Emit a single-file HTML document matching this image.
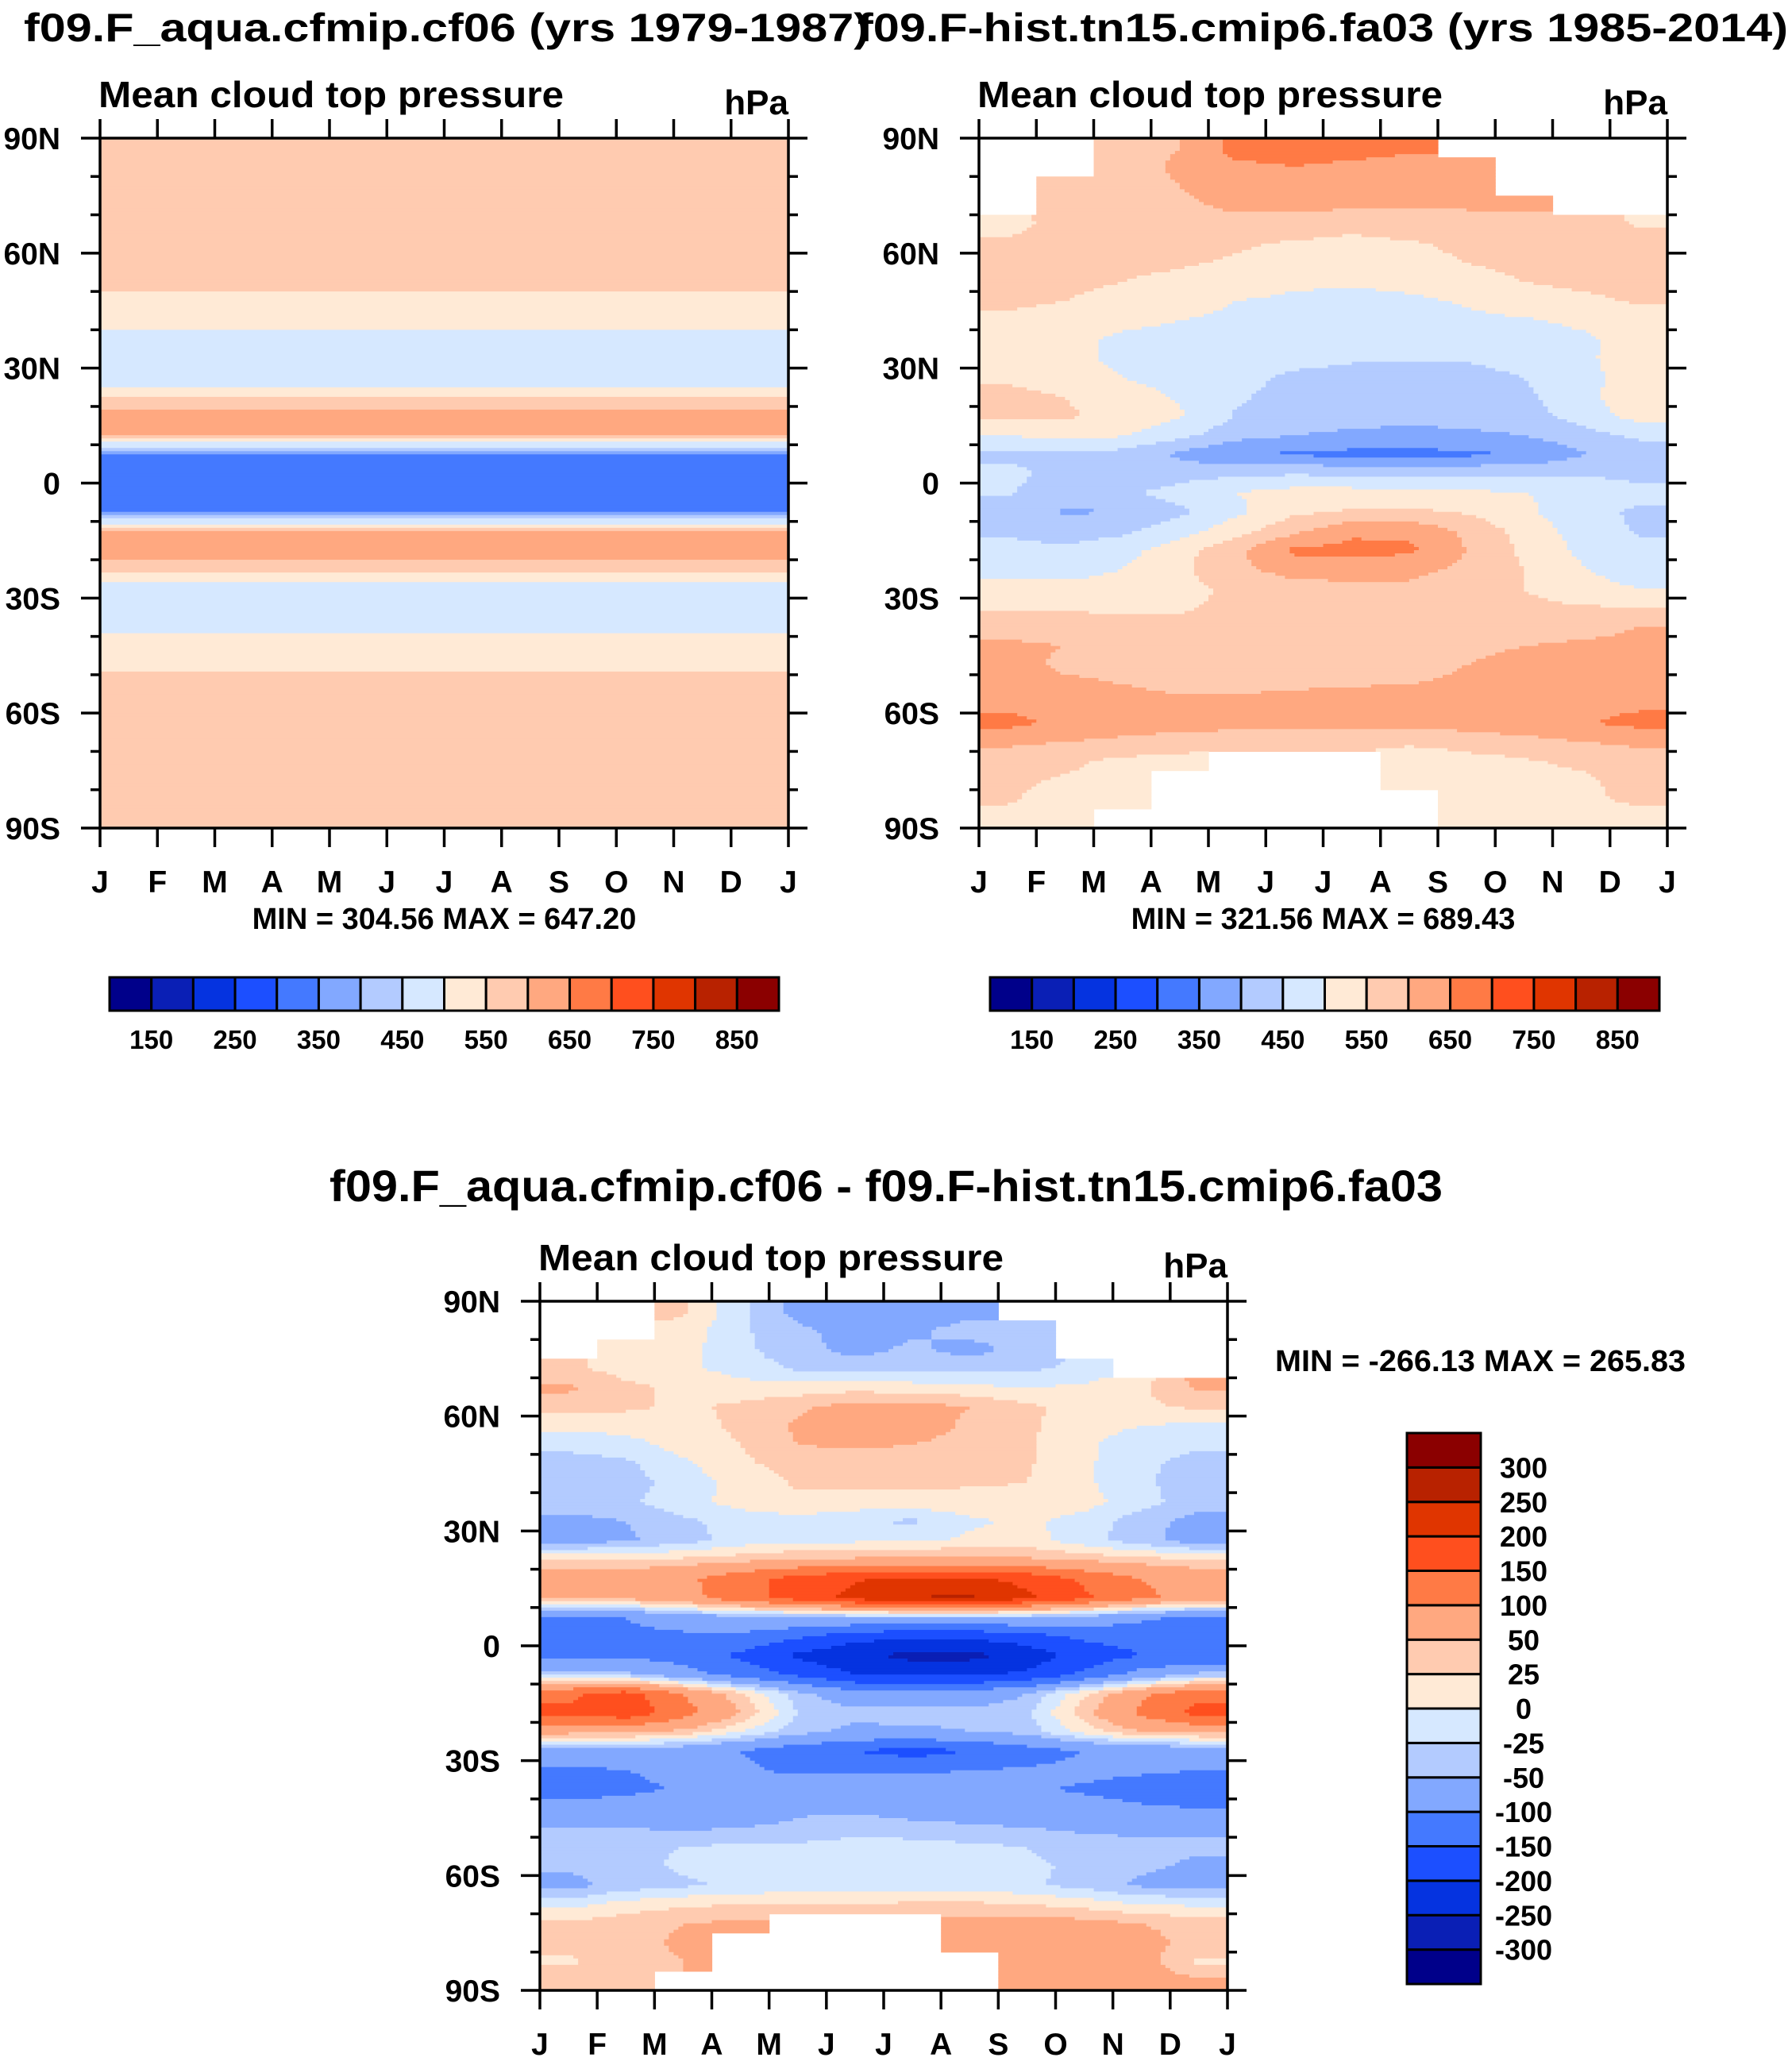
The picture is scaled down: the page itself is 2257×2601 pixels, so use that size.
<!DOCTYPE html>
<html><head><meta charset="utf-8"><style>
html,body{margin:0;padding:0;background:#fff}
svg text{font-family:"Liberation Sans",Arial,sans-serif;font-weight:bold;fill:#000}
</style></head><body>
<svg id="fig" xmlns="http://www.w3.org/2000/svg" width="2257" height="2596" viewBox="0 0 2257 2596">
<rect x="0" y="0" width="2257" height="2596" fill="#fff"/>
<text x="30" y="52" font-size="50" textLength="1065" lengthAdjust="spacingAndGlyphs">f09.F_aqua.cfmip.cf06 (yrs 1979-1987)</text>
<text x="1080" y="52" font-size="50" textLength="1172" lengthAdjust="spacingAndGlyphs">f09.F-hist.tn15.cmip6.fa03 (yrs 1985-2014)</text>
<text x="415" y="1513" font-size="56" textLength="1402" lengthAdjust="spacingAndGlyphs">f09.F_aqua.cfmip.cf06 - f09.F-hist.tn15.cmip6.fa03</text>
</svg>
<script>
// ---- data ----
const months = ["J","F","M","A","M","J","J","A","S","O","N","D","J"];
const latTickLabels = ["90N","60N","30N","0","30S","60S","90S"];
const latTickValues = [90,60,30,0,-30,-60,-90];
const latCenters = [87.5,82.5,77.5,72.5,67.5,62.5,57.5,52.5,47.5,42.5,37.5,32.5,27.5,22.5,17.5,12.5,7.5,2.5,-2.5,-7.5,-12.5,-17.5,-22.5,-27.5,-32.5,-37.5,-42.5,-47.5,-52.5,-57.5,-62.5,-67.5,-72.5,-77.5,-82.5,-87.5];
const absLevels = [150,200,250,300,350,400,450,500,550,600,650,700,750,800,850];
const absLevelLabels = ["150","250","350","450","550","650","750","850"];
const diffLevels = [-300,-250,-200,-150,-100,-50,-25,0,25,50,100,150,200,250,300];
const colors = ["#00008a","#0a1fb5","#0533e0","#1c4fff","#4479ff","#82a8ff","#b3cbff","#d6e8ff","#ffead6","#ffcbb0","#ffa880","#ff7a45","#ff4f1e","#e03500","#b82200","#8b0000"];
const p1Profile = [580,580,580,580,585,592,580,565,530,520,472,460,466,545,625,600,345,330,330,345,600,625,570,470,456,480,530,540,575,585,590,580,580,580,580,580];
const p2Grid = [
[null,null,570,600,670,670,670,660,null,null,null,null],
[null,null,575,610,640,650,640,630,620,null,null,null],
[null,570,580,600,630,630,625,625,615,null,null,null],
[null,570,580,590,610,615,610,605,605,610,null,null],
[540,560,570,580,585,575,560,575,585,585,575,545],
[555,565,570,565,555,545,540,545,560,570,570,565],
[565,565,560,555,545,530,525,535,550,560,565,565],
[565,560,550,540,525,510,505,515,535,550,560,565],
[560,550,535,520,500,490,485,490,505,530,540,555],
[540,530,515,500,490,485,480,482,488,495,510,530],
[530,515,490,480,478,475,470,470,475,480,490,520],
[535,515,488,478,470,465,455,452,455,470,490,525],
[545,530,500,480,465,440,435,430,430,450,485,520],
[560,550,525,495,455,435,430,425,428,440,480,540],
[560,555,540,505,445,425,420,415,420,430,470,520],
[500,520,505,465,420,400,390,385,390,400,430,460],
[440,440,430,390,345,345,335,335,340,355,395,420],
[460,440,400,430,440,445,440,440,440,440,445,430],
[455,420,440,470,500,520,520,515,510,500,490,470],
[430,395,400,440,490,540,555,560,545,510,470,440],
[440,425,440,480,530,590,640,640,590,530,480,445],
[470,460,480,530,590,660,665,660,600,540,490,460],
[480,480,500,540,590,620,620,615,590,550,505,470],
[520,515,520,535,560,580,590,590,570,550,520,500],
[545,545,540,545,560,560,565,565,565,560,555,550],
[580,575,565,560,555,560,565,570,570,575,580,600],
[610,600,580,570,568,570,575,580,590,600,610,615],
[620,590,585,575,575,578,580,590,600,615,620,625],
[625,610,600,592,590,595,598,600,605,615,625,630],
[635,625,615,606,610,612,615,615,620,625,635,640],
[665,640,625,620,618,615,615,615,620,630,645,665],
[610,600,590,580,570,560,560,565,575,585,600,610],
[575,560,540,530,null,null,null,500,530,545,560,580],
[560,545,535,null,null,null,null,505,530,535,540,570],
[555,530,525,null,null,null,null,null,525,530,540,560],
[535,530,null,null,null,null,null,null,520,520,525,530]
];
const p3Grid = [
[null,null,30,-20,-60,-70,-70,-60,null,null,null,null],
[null,null,15,-20,-45,-60,-55,-40,-35,null,null,null],
[null,10,10,-20,-40,-60,-45,-60,-40,null,null,null],
[30,15,5,-10,-30,-35,-30,-35,-30,-20,null,null],
[55,30,20,10,10,15,10,5,0,5,20,55],
[35,30,20,30,45,60,60,50,30,15,20,30],
[5,10,15,30,55,70,65,45,30,10,0,-5],
[-15,-10,10,25,50,55,50,40,28,5,-15,-20],
[-40,-30,-5,20,35,30,30,30,28,5,-20,-35],
[-40,-35,-15,10,28,30,30,28,25,5,-20,-40],
[-35,-30,-10,10,20,15,15,15,15,10,-15,-40],
[-60,-50,-30,-15,-10,-20,-30,-5,5,-10,-40,-60],
[-60,-55,-35,-15,-5,-5,-5,5,10,-15,-40,-65],
[20,25,30,40,50,55,60,60,55,45,35,25],
[80,75,90,130,170,195,210,210,185,140,100,80],
[60,60,80,130,170,215,250,260,210,160,110,80],
[-110,-100,-70,-60,-50,-45,-45,-45,-45,-60,-90,-110],
[-130,-110,-110,-110,-140,-180,-190,-190,-170,-140,-130,-140],
[-120,-110,-120,-160,-210,-240,-265,-265,-230,-180,-150,-150],
[-30,-40,-80,-120,-160,-200,-210,-210,-190,-140,-80,-40],
[140,170,100,30,-40,-80,-90,-80,-50,20,90,130],
[160,185,120,50,-25,-40,-30,-40,-30,40,110,170],
[60,60,40,0,-40,-60,-60,-50,-40,10,50,60],
[-60,-65,-80,-100,-130,-150,-170,-150,-120,-100,-90,-80],
[-110,-100,-90,-90,-110,-110,-105,-100,-95,-90,-95,-100],
[-120,-110,-95,-85,-70,-70,-80,-85,-95,-105,-115,-120],
[-80,-80,-75,-70,-55,-55,-65,-70,-75,-85,-95,-100],
[-50,-50,-55,-50,-45,-35,-40,-45,-50,-55,-55,-55],
[-45,-30,-25,-20,-20,-15,-15,-20,-25,-40,-45,-45],
[-45,-35,-20,-15,-15,-20,-20,-20,-20,-30,-45,-55],
[-60,-40,-30,-20,-15,-15,-15,-15,-20,-35,-55,-60],
[-10,10,20,25,25,25,30,30,25,15,0,-5],
[30,40,50,55,null,null,null,60,65,60,50,40],
[35,40,55,null,null,null,null,65,70,65,60,40],
[20,40,50,null,null,null,null,null,70,70,65,20],
[40,45,null,null,null,null,null,null,70,70,65,55]
];
const p1Stats = "MIN = 304.56 MAX = 647.20";
const p2Stats = "MIN = 321.56 MAX = 689.43";
const p3Stats = "MIN = -266.13 MAX = 265.83";

// ---- drawing ----
const NS = "http://www.w3.org/2000/svg";
const svg = document.getElementById("fig");
function mk(tag, attrs, parent){
  const e = document.createElementNS(NS, tag);
  for (const k in attrs) e.setAttribute(k, attrs[k]);
  (parent||svg).appendChild(e);
  return e;
}
function classify(v, levels){ let i=0; while(i<levels.length && v>=levels[i]) i++; return i; }

function drawField(grid, x0, y0, W, H, levels, name){
  const g = mk("g", {});
  
  
  const nR = grid.length, nC = grid[0].length;
  const SX = 12, SY = 6;
  const cw = W / nC, rh = H / nR;
  const sw = cw / SX, sh = rh / SY;
  const val = (r,c,own) => { r=Math.max(0,Math.min(nR-1,r)); c=Math.max(0,Math.min(nC-1,c)); const v=grid[r][c]; return v==null?own:v; };
  for (let r=0;r<nR;r++){
    for (let sy=0; sy<SY; sy++){
      const fy = r + (sy+0.5)/SY - 0.5;
      let runStart=-1, runColor=null;
      const flush = (endX) => {
        if (runColor!==null){
          const rect = mk("rect", {x:(x0+runStart).toFixed(2), y:(y0+r*rh+sy*sh).toFixed(2), width:(endX-runStart+0.6).toFixed(2), height:(sh+0.6).toFixed(2), fill:runColor}, g);
          
          
        }
      };
      for (let c=0;c<nC;c++){
        for (let sx=0; sx<SX; sx++){
          const px = c*cw + sx*sw;
          let col = null;
          const own = grid[r][c];
          if (own!=null){
            const fx = c + (sx+0.5)/SX - 0.5;
            const r0=Math.floor(fy), c0=Math.floor(fx), ty=fy-r0, tx=fx-c0;
            const v = (1-ty)*((1-tx)*val(r0,c0,own)+tx*val(r0,c0+1,own)) + ty*((1-tx)*val(r0+1,c0,own)+tx*val(r0+1,c0+1,own));
            col = colors[classify(v, levels)];
          }
          if (col!==runColor){ flush(px); runStart=px; runColor=col; }
        }
      }
      flush(W);
    }
  }
}

function drawAxes(x0, y0, W, H, name){
  const g = mk("g", {stroke:"#000","stroke-width":"3.5",fill:"none"});
  
  
  const frame = mk("rect", {x:x0, y:y0, width:W, height:H}, g);
  
  
  const yOf = lat => y0 + (90-lat)/180*H;
  for (let lat=90; lat>=-90; lat-=10){
    const major = lat % 30 === 0;
    const L = major ? 24 : 12;
    const y = yOf(lat);
    const t1 = mk("line", {x1:x0-L, y1:y, x2:x0, y2:y}, g);
    
    
    const t2 = mk("line", {x1:x0+W, y1:y, x2:x0+W+L, y2:y}, g);
    
    
  }
  for (let i=0;i<months.length;i++){
    const x = x0 + i*W/12;
    const t1 = mk("line", {x1:x, y1:y0-24, x2:x, y2:y0}, g);
    
    
    const t2 = mk("line", {x1:x, y1:y0+H, x2:x, y2:y0+H+24}, g);
    
    
    const tx = mk("text", {x:x, y:y0+H+81, "font-size":39, "text-anchor":"middle"});
    tx.textContent = months[i];
    
    
  }
  for (let i=0;i<latTickValues.length;i++){
    const tx = mk("text", {x:x0-50, y:yOf(latTickValues[i])+14, "font-size":39, "text-anchor":"end"});
    tx.textContent = latTickLabels[i];
    
    
  }
  const st = mk("text", {x:x0-2, y:y0-39, "font-size":46, textLength:586, lengthAdjust:"spacingAndGlyphs"});
  st.textContent = "Mean cloud top pressure";
  
  
  const un = mk("text", {x:x0+W, y:y0-30, "font-size":44, "text-anchor":"end"});
  un.textContent = "hPa";
  
  
}

function hColorbar(x0, y0, W, H, name){
  const g = mk("g", {});
  
  
  const bw = W / colors.length;
  for (let i=0;i<colors.length;i++){
    const r = mk("rect", {x:x0+i*bw, y:y0, width:bw, height:H, fill:colors[i], stroke:"#000", "stroke-width":3}, g);
    
    
  }
  for (let k=0;k<absLevelLabels.length;k++){
    const li = absLevels.indexOf(Number(absLevelLabels[k]));
    const t = mk("text", {x:x0+(li+1)*bw, y:y0+H+48, "font-size":33, "text-anchor":"middle"}, g);
    t.textContent = absLevelLabels[k];
    
    
  }
}
function vColorbar(x0, y0, W, H, name){
  const g = mk("g", {});
  
  
  const bh = H / colors.length;
  for (let i=0;i<colors.length;i++){
    const r = mk("rect", {x:x0, y:y0+H-(i+1)*bh, width:W, height:bh, fill:colors[i], stroke:"#000", "stroke-width":3}, g);
    
    
  }
  for (let i=0;i<diffLevels.length;i++){
    const t = mk("text", {x:x0+W+54, y:y0+H-(i+1)*bh+13, "font-size":36, "text-anchor":"middle"}, g);
    t.textContent = String(diffLevels[i]);
    
    
  }
}

const p1Grid = p1Profile.map(v => months.slice(0,12).map(() => v));

const P1 = {x:126,y:174,w:867,h:869}, P2 = {x:1233,y:174,w:867,h:869}, P3 = {x:680,y:1639,w:866,h:868};
drawField(p1Grid, P1.x, P1.y, P1.w, P1.h, absLevels, 'panel1');
drawField(p2Grid, P2.x, P2.y, P2.w, P2.h, absLevels, 'panel2');
drawField(p3Grid, P3.x, P3.y, P3.w, P3.h, diffLevels, 'difference');
drawAxes(P1.x, P1.y, P1.w, P1.h, 'panel1');
drawAxes(P2.x, P2.y, P2.w, P2.h, 'panel2');
drawAxes(P3.x, P3.y, P3.w, P3.h, 'difference');

let t = mk("text", {x:P1.x+P1.w/2, y:1170, "font-size":38, "text-anchor":"middle"});
t.textContent = p1Stats;


t = mk("text", {x:P2.x+P2.w/2, y:1170, "font-size":38, "text-anchor":"middle"});
t.textContent = p2Stats;


t = mk("text", {x:1606, y:1727, "font-size":38, textLength:517, lengthAdjust:"spacingAndGlyphs"});
t.textContent = p3Stats;



hColorbar(138, 1231, 843, 42, 'panel1');
hColorbar(1247, 1231, 843, 42, 'panel2');
vColorbar(1772, 1805, 93, 694, 'difference');
</script>
</body></html>
